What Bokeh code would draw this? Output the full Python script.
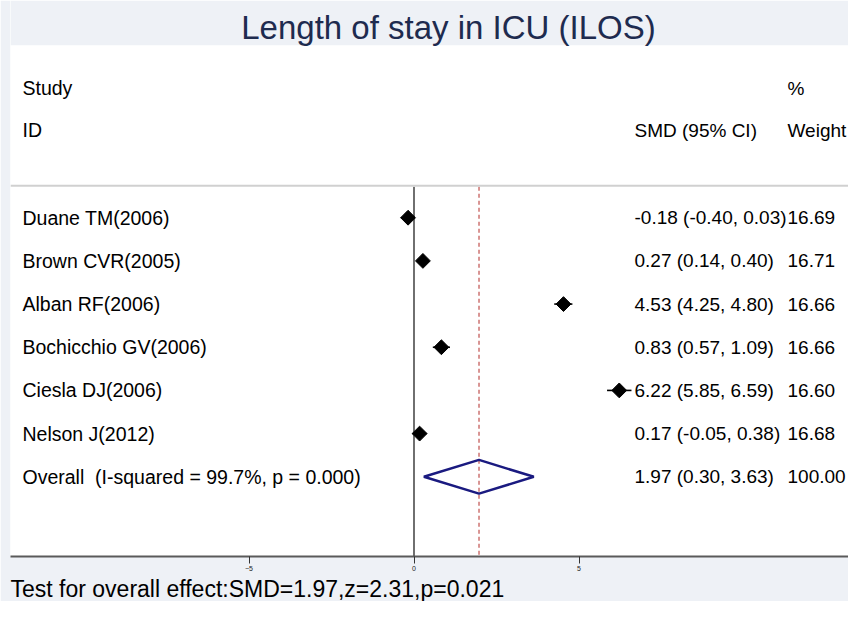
import math
from bokeh.plotting import figure
from bokeh.models import Range1d, FixedTicker, Span, Title
from bokeh.core.properties import value
from bokeh.embed import file_html
from bokeh.resources import INLINE

# ---------------- data ----------------
chart_title = "Length of stay in ICU (ILOS)"
studies = ["Duane TM(2006)", "Brown CVR(2005)", "Alban RF(2006)",
           "Bochicchio GV(2006)", "Ciesla DJ(2006)", "Nelson J(2012)"]
smd = [-0.18, 0.27, 4.53, 0.83, 6.22, 0.17]
ci_low = [-0.40, 0.14, 4.25, 0.57, 5.85, -0.05]
ci_high = [0.03, 0.40, 4.80, 1.09, 6.59, 0.38]
weights = [16.69, 16.71, 16.66, 16.66, 16.60, 16.68]
overall_label = "Overall \u00a0(I-squared = 99.7%, p = 0.000)"
overall_smd = 1.97
overall_low = 0.30
overall_high = 3.63
overall_weight = 100.00
footer_text = "Test for overall effect:SMD=1.97,z=2.31,p=0.021"
tick_values = [-5, 0, 5]

# ---------------- layout helpers (figure pixel -> data) ----------------
W, H = 848, 601
FRAME_LEFT = 10
AXIS_Y = 558
ZERO_PX = 413.5
PX_PER_UNIT = 33.0
ROW1_PX = 218.0
ROW_PITCH = 43.33

def xpx(px):
    return (px - ZERO_PX) / PX_PER_UNIT

def ypx(py):
    return (py - ROW1_PX) / ROW_PITCH + 1

x_start, x_end = xpx(FRAME_LEFT), xpx(W)
y_top, y_bottom = ypx(0), ypx(AXIS_Y)

LIGHT = "#eef1f6"
FONT = value("Liberation Sans")
CI_X = 634
WT_X = 787

p = figure(width=W, height=H, output_backend="svg", toolbar_location=None,
           x_range=Range1d(x_start, x_end), y_range=Range1d(y_bottom, y_top),
           y_axis_location=None, min_border_left=FRAME_LEFT, min_border_right=0,
           min_border_top=0, min_border_bottom=H - AXIS_Y)
p.background_fill_color = "white"
p.border_fill_color = LIGHT
p.outline_line_color = None
p.xgrid.visible = False
p.ygrid.visible = False

# top light band (title area)
p.quad(left=x_start, right=x_end, top=y_top, bottom=ypx(45), color=LIGHT, line_width=0)

# header separator
p.add_layout(Span(location=ypx(186), dimension="width", line_color="#d0d0d0", line_width=2))

line_top = ypx(187)
# zero line and overall dashed line
p.segment(x0=[0], y0=[line_top], x1=[0], y1=[y_bottom], line_color="#222222", line_width=1.3)
p.segment(x0=[overall_smd], y0=[line_top], x1=[overall_smd], y1=[y_bottom],
          line_color="#c0504d", line_width=1.2, line_dash="4 3")

rows = list(range(1, len(studies) + 1))
overall_row = len(studies) + 1

# CIs and point estimates
p.segment(x0=ci_low, y0=rows, x1=ci_high, y1=rows, line_color="black", line_width=1.6)
p.scatter(x=smd, y=rows, marker="square", angle=math.pi / 4, size=10.5,
          fill_color="black", line_color="black")

# overall diamond
p.patch(x=[overall_low, overall_smd, overall_high, overall_smd],
        y=[overall_row, overall_row - 0.39, overall_row, overall_row + 0.39],
        fill_alpha=0, line_color="#1a1a80", line_width=2.5)

# texts
def txt(x, y, t, size="19.5px", align="left", color="black", baseline="middle"):
    p.text(x=x, y=y, text=t, text_font=FONT, text_font_size=size,
           text_align=align, text_baseline=baseline, text_color=color)

txt([xpx(448)], [ypx(27)], [chart_title], size="33px", align="center", color="#1e2b4f")
txt([xpx(22)], [ypx(88)], ["Study"])
txt([xpx(22)], [ypx(130)], ["ID"])
txt([xpx(WT_X)], [ypx(88)], ["%"], size="19px")
txt([xpx(CI_X)], [ypx(130)], ["SMD (95% CI)"], size="19px")
txt([xpx(WT_X)], [ypx(130)], ["Weight"], size="19px")

all_rows = rows + [overall_row]
txt([xpx(22)] * len(all_rows), all_rows, studies + [overall_label])
ci_texts = [f"{m:.2f} ({lo:.2f}, {hi:.2f})" for m, lo, hi in zip(smd, ci_low, ci_high)]
ci_texts.append(f"{overall_smd:.2f} ({overall_low:.2f}, {overall_high:.2f})")
txt([xpx(CI_X)] * len(all_rows), all_rows, ci_texts, size="19px")
w_texts = [f"{w:.2f}" for w in weights] + [f"{overall_weight:.2f}"]
txt([xpx(WT_X)] * len(all_rows), all_rows, w_texts, size="19px")

# axis
ax = p.xaxis[0]
ax.ticker = FixedTicker(ticks=tick_values)
ax.major_label_text_font_size = "7px"
ax.major_label_text_font = "Liberation Sans"
ax.major_label_text_color = "#222222"
ax.major_label_standoff = 2
ax.axis_line_color = "#5a5a5a"
ax.axis_line_width = 2
ax.major_tick_line_color = "#333333"
ax.major_tick_out = 7
ax.major_tick_in = 0
ax.minor_tick_line_color = None

footer = Title(text=footer_text, align="left", text_font_size="23px",
               text_font_style="normal", text_font="Liberation Sans",
               text_color="black", standoff=0, offset=0)
p.add_layout(footer, "below")

html = file_html(p, INLINE)
html = html.replace("<body>", '<body style="background-color:%s;">' % LIGHT, 1)
open("out.html", "w").write(html)
